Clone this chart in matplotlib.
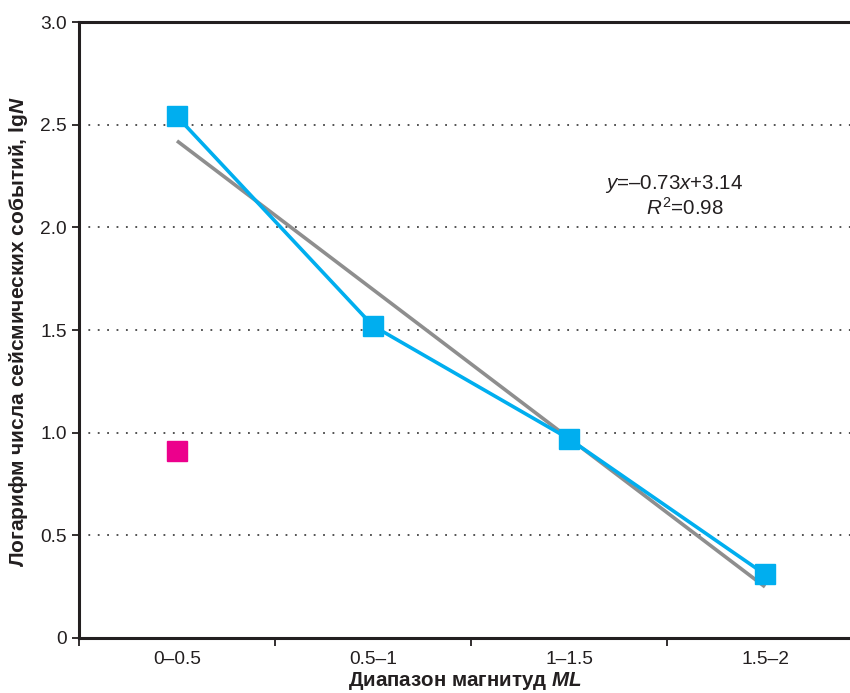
import numpy as np
import matplotlib
matplotlib.use('Agg')
import matplotlib.pyplot as plt

plt.rcParams['font.family'] = ['Liberation Sans', 'DejaVu Sans']
plt.rcParams['mathtext.fontset'] = 'custom'
plt.rcParams['mathtext.rm'] = 'Liberation Sans'
plt.rcParams['mathtext.it'] = 'Liberation Sans:italic'
plt.rcParams['mathtext.bf'] = 'Liberation Sans:bold'
plt.rcParams['mathtext.bfit'] = 'Liberation Sans:bold:italic'

categories = ['0–0.5', '0.5–1', '1–1.5', '1.5–2']
log_counts = [2.54, 1.52, 0.97, 0.31]
extra_point = [0.91]  # magenta point in the first range

x = np.arange(len(categories)) + 0.5
slope, intercept = np.polyfit(np.arange(1, len(categories) + 1), log_counts, 1)
trend = slope * np.arange(1, len(categories) + 1) + intercept

fig = plt.figure(figsize=(8.5, 6.93), dpi=100)
ax = fig.add_axes([79 / 850, 55 / 693, 784 / 850, 616 / 693])

for yv in [0.5, 1.0, 1.5, 2.0, 2.5]:
    ax.axhline(yv, color='#444444', lw=1.3, ls=(0, (1, 4.2)), zorder=1)

ax.plot(x, trend, color='#8e8e8e', lw=2.6, zorder=2, solid_capstyle='butt')
ax.plot(x, log_counts, color='#00aeef', lw=2.6, marker='s', ms=14.5,
        mec='#00aeef', zorder=3)
ax.plot(x[:1], extra_point, ls='none', marker='s', ms=14.5, color='#ec008c', zorder=3)

ax.set_xlim(0, 4)
ax.set_ylim(0, 3.0)
ax.set_yticks([0, 0.5, 1.0, 1.5, 2.0, 2.5, 3.0])
ax.set_yticklabels(['0', '0.5', '1.0', '1.5', '2.0', '2.5', '3.0'])
ax.set_xticks([0, 1, 2, 3, 4])
ax.set_xticklabels([])
ax.set_xticks(x, minor=True)
ax.set_xticklabels(categories, minor=True)
ax.tick_params(axis='x', which='minor', length=0, pad=9, labelsize=13.8, colors='#231f20')
ax.tick_params(axis='x', which='major', length=6, width=1.3, direction='out', color='#231f20')
ax.tick_params(axis='y', length=5, width=1.3, direction='out', pad=4, labelsize=13.8,
               colors='#231f20')

for s in ['left', 'bottom', 'top']:
    ax.spines[s].set_linewidth(2.2)
    ax.spines[s].set_color('#231f20')
ax.spines['right'].set_visible(False)

fig.text(465 / 850, 12 / 693, 'Диапазон магнитуд $\\mathbfit{ML}$', ha='center', va='center',
         fontsize=14.8, fontweight='bold', color='#231f20')
fig.text(19 / 850, (693 - 332) / 693, 'Логарифм числа сейсмических событий, lg$\\mathbfit{N}$',
         ha='center', va='center', rotation=90, fontsize=15, fontweight='bold', color='#231f20')

ax.text(674, 693 - 184, '$\\mathit{y}$=–0.73$\\mathit{x}$+3.14', transform=None, ha='center',
        va='center', fontsize=14.8, color='#231f20')
ax.text(685, 693 - 208, '$\\mathit{R}^{2}$=0.98', transform=None, ha='center', va='center',
        fontsize=14.8, color='#231f20')

fig.savefig('out.png', dpi=100)
